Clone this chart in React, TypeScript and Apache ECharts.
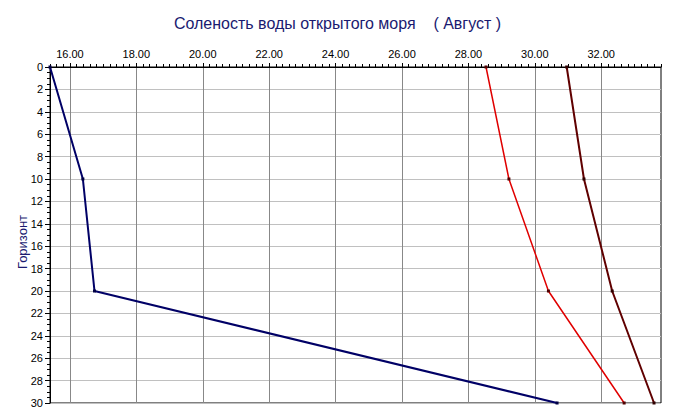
import React, { useEffect, useRef } from "react";
import * as echarts from "echarts";

const depths = [0, 10, 20, 30];
const seriesBlue = [15.4, 16.39, 16.74, 30.67];
const seriesRed = [28.53, 29.22, 30.41, 32.69];
const seriesBrown = [30.96, 31.48, 32.33, 33.59];
const xTickValues = [16, 18, 20, 22, 24, 26, 28, 30, 32];
const titleText = "Соленость воды открытого моря    ( Август )";
const yAxisName = "Горизонт";

const FONT = "Arial, 'Liberation Sans', sans-serif";

function pairs(xs: number[]) {
  return xs.map((x, i) => [x, depths[i]]);
}

export default function App() {
  const ref = useRef<HTMLDivElement>(null);
  useEffect(() => {
    if (!ref.current) return;
    const chart = echarts.init(ref.current, undefined, { renderer: "svg" });
    const mk = (name: string, data: number[], color: string, width: number, mcolor: string) => ({
      name,
      type: "line",
      xAxisIndex: 0,
      yAxisIndex: 0,
      data: pairs(data),
      symbol: "rect",
      symbolSize: 3,
      lineStyle: { color, width },
      itemStyle: { color: mcolor },
      z: 5,
    });
    chart.setOption({
      animation: false,
      backgroundColor: "#ffffff",
      title: {
        text: titleText,
        left: "center",
        top: 10,
        textStyle: { fontFamily: FONT, fontSize: 16, fontWeight: "normal", color: "#1a1a70" },
      },
      grid: {
        left: 50,
        top: 67,
        right: 14,
        bottom: 16,
        show: true,
        borderColor: "#000000",
        borderWidth: 1,
        containLabel: false,
      },
      xAxis: [
        {
          type: "value",
          position: "top",
          min: 15.4,
          max: 33.8,
          axisLine: { show: true, lineStyle: { color: "#000000", width: 1 } },
          axisTick: { show: true, length: 4, customValues: xTickValues, lineStyle: { color: "#000000" } },
          axisLabel: {
            customValues: xTickValues,
            formatter: (v: number) => v.toFixed(2),
            fontFamily: FONT,
            fontSize: 11,
            color: "#000000",
            margin: 8,
          },
          splitLine: { show: true, lineStyle: { color: "#888888", width: 1 } },
          z: 3,
        },
        {
          type: "value",
          position: "top",
          min: 15.4,
          max: 33.8,
          interval: 0.2,
          axisLine: { show: false },
          axisTick: { show: true, length: 3, lineStyle: { color: "#000000" } },
          axisLabel: { show: false },
          splitLine: { show: false },
        },
      ],
      yAxis: {
        type: "value",
        inverse: true,
        min: 0,
        max: 30,
        interval: 2,
        name: yAxisName,
        nameLocation: "middle",
        nameGap: 21,
        nameMoveOverlap: false,
        nameTextStyle: { fontFamily: FONT, fontSize: 13, color: "#1a1a70", padding: [0, 14, 0, 0] },
        axisLine: { show: true, lineStyle: { color: "#000000", width: 1 } },
        axisTick: { show: true, length: 5, lineStyle: { color: "#000000" } },
        minorTick: { show: true, splitNumber: 4, length: 3, lineStyle: { color: "#000000" } },
        axisLabel: { fontFamily: FONT, fontSize: 11, color: "#000000", margin: 7 },
        splitLine: { show: true, lineStyle: { color: "#c0c0c0", width: 1 } },
      },
      series: [
        mk("Blue", seriesBlue, "#000066", 2, "#000044"),
        mk("Red", seriesRed, "#e00000", 1.5, "#500000"),
        mk("Brown", seriesBrown, "#600000", 2, "#300000"),
      ],
    });
    return () => chart.dispose();
  }, []);
  return <div ref={ref} style={{ width: 675, height: 419, position: "absolute", left: 0, top: 0 }} />;
}
